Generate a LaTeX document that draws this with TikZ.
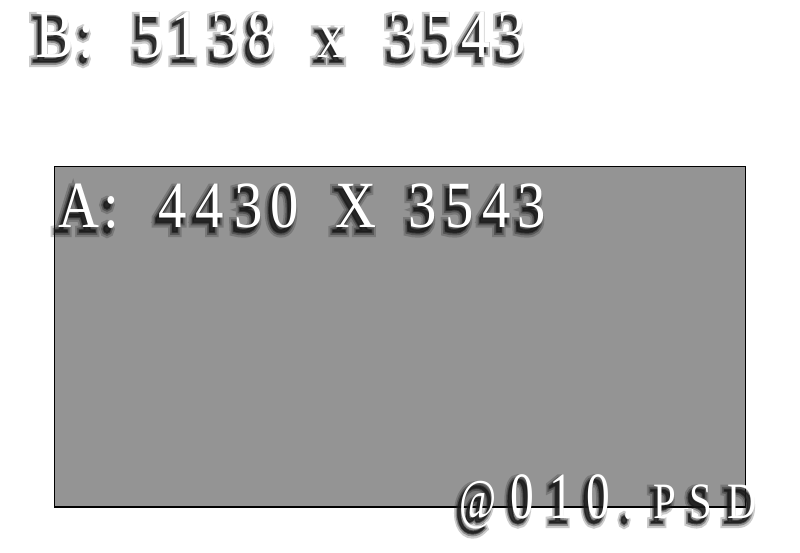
\documentclass[tikz,border=0pt]{standalone}
\usepackage{fontspec}
\setmainfont{Liberation Serif}
\definecolor{PanelClr}{rgb}{0.58,0.58,0.58}
\definecolor{ShadowClr}{rgb}{0.1,0.1,0.1}

\tikzset{
  glyph/.style={inner sep=0pt,anchor=base,text=white},
  glyphshadow/.style={inner sep=0pt,anchor=base,text=ShadowClr}
}
% letters drawn with a stroked outline (text render mode 2)
\newcommand{\Outlined}[2]{\special{pdf:literal direct 2 Tr #1 w}#2\special{pdf:literal direct 0 Tr 1 w}}
% one letter: soft shadow (outlines getting narrower and darker) and the white letter on top
% #1 x, #2 baseline, #3 font, #4 horizontal squeeze, #5 letter
\newcommand{\EmbossChar}[5]{%
  \foreach \w/\op in {10/0.22,5.5/0.35,2/0.6}
    \node[glyphshadow,font=#3,opacity=\op] at (#1-4,#2+5) {\scalebox{#4}[1]{\Outlined{\w}{#5}}};
  \node[glyph,font=#3] at (#1,#2) {\scalebox{#4}[1]{#5}};
}
\newcommand{\BTxt}{\fontsize{69}{69}\selectfont}
\newcommand{\ATxt}{\fontsize{66}{66}\selectfont}
\newcommand{\FTxt}{\fontsize{66}{66}\selectfont}
\newcommand{\FSmall}{\fontsize{51}{51}\selectfont}
\newcommand{\FAt}{\fontsize{56}{56}\selectfont}

\begin{document}
\begin{tikzpicture}[x=1pt,y=-1pt]
\useasboundingbox[fill=white] (0,0) rectangle (800,552);

% the gray panel
\draw[fill=PanelClr,line width=1.2pt] (54.5,166.5) rectangle (745.5,507);

% B line
\foreach \c/\x in {B/55,{:}/87,5/150,1/186,3/226,8/262,x/332,3/403,5/440,4/476,3/512}
  \EmbossChar{\x}{57}{\BTxt}{0.84}{\c};

% A line
\foreach \c/\x in {A/79,{:}/111,4/173,4/210,3/249,0/285,X/356,3/423,5/460,4/497,3/532}
  \EmbossChar{\x}{227}{\ATxt}{0.86}{\c};

% file name
\EmbossChar{478}{518}{\FAt}{0.72}{@};
\foreach \c/\x in {0/522,1/561,0/598,./628}
  \EmbossChar{\x}{518}{\FTxt}{0.72}{\c};
\foreach \c/\x in {P/665,S/701,D/742}
  \EmbossChar{\x}{518}{\FSmall}{0.8}{\c};

\end{tikzpicture}
\end{document}
